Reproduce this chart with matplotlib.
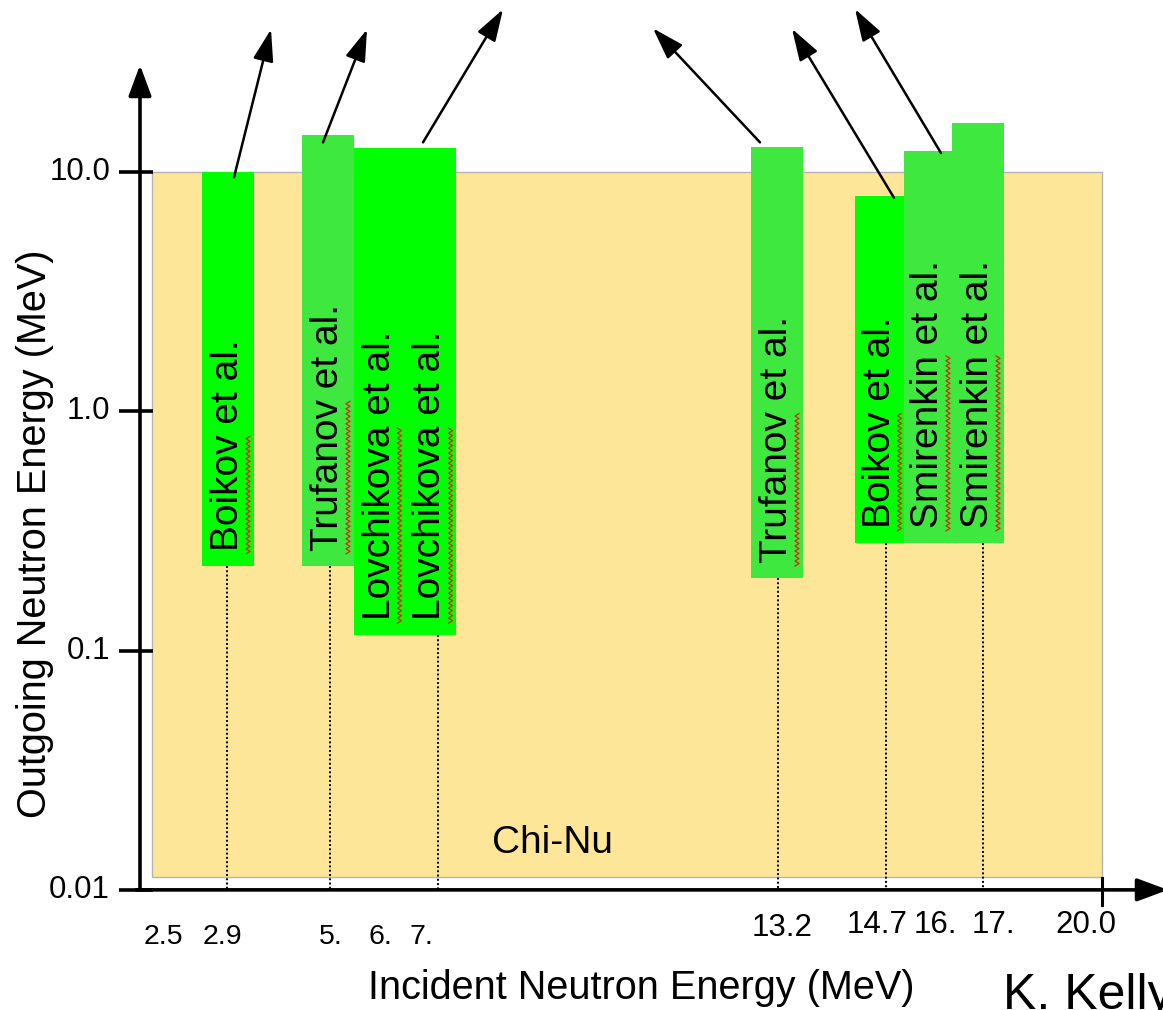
import numpy as np
import matplotlib
matplotlib.use("Agg")
import matplotlib.pyplot as plt
from matplotlib.transforms import IdentityTransform

plt.rcParams["font.family"] = ["Liberation Sans", "DejaVu Sans"]

# ------------------------------------------------
# measurements: incident energy (MeV) and outgoing energy range (MeV)
names = ["Boikov", "Trufanov", "Lovchikova", "Lovchikova",
         "Trufanov", "Boikov", "Smirenkin", "Smirenkin"]
incident = [2.9, 5.0, 6.0, 7.0, 13.2, 14.7, 16.0, 17.0]
out_low = [0.226, 0.226, 0.116, 0.116, 0.201, 0.282, 0.282, 0.282]
out_high = [10.0, 14.3, 12.6, 12.6, 12.7, 7.9, 12.2, 16.0]

# Chi-Nu coverage
chinu_low = 0.0113
chinu_high = 10.0

x_tick_labels = ["2.5", "2.9", "5.", "6.", "7.", "13.2", "14.7", "16.", "17.", "20.0"]
y_tick_values = [10.0, 1.0, 0.1, 0.01]
y_tick_labels = ["10.0", "1.0", "0.1", "0.01"]

# ------------------------------------------------
# schematic layout (the incident axis is not to scale)
bar_left = [202, 302, 354, 405, 751, 855, 904, 952]
bar_width = [52, 52, 51, 51, 52, 49, 48, 52]
bar_color = ["#00ff00", "#3fe83f", "#00ff00", "#00ff00",
             "#3fe83f", "#00ff00", "#3fe83f", "#3fe83f"]
drop_x = [227, 330, None, 438, 778, 886, None, 983]
x_tick_pos = [163, 222, 331, 380, 421, 782, 877, 935, 993, 1086]
x_tick_drop = [47, 47, 47, 47, 47, 38, 35, 35, 35, 35]
x_tick_size = [20.5, 20.5, 20.5, 20.5, 20.5, 22.5, 22.5, 22.5, 22.5, 22.5]
chinu_left, chinu_right = 152, 1102

# arrow tails (x, outgoing energy) and head offsets in pixels
arrow_tail = [(234, 9.5), (323, 13.3), (423, 13.3),
              (760, 13.3), (894, 7.8), (941, 12.0)]
arrow_head = [(37, 148), (44, 113), (80, 133),
              (-107, 114), (-102, 169), (-86, 144)]

W, H = 1163, 1010
fig = plt.figure(figsize=(W / 100, H / 100), dpi=100)
ax = fig.add_axes([0, 0, 1, 1])
ax.set_yscale("log")
ax.set_xlim(0, W)
ax.set_ylim(10 ** -2.502, 10 ** 1.7188)
ax.axis("off")

# Chi-Nu region
ax.bar(chinu_left, chinu_high - chinu_low, bottom=chinu_low,
       width=chinu_right - chinu_left, align="edge",
       color="#fee699", edgecolor="#b4b4b4", linewidth=1.0, zorder=1)
ax.text((chinu_left + chinu_right) / 2 - 75, 0.0157, "Chi-Nu",
        fontsize=28, ha="center", va="center", zorder=5)

# data bars
ax.bar(bar_left, np.array(out_high) - np.array(out_low), bottom=out_low,
       width=bar_width, align="edge", color=bar_color, linewidth=0, zorder=3)

labels = []
for left, w, lo, name in zip(bar_left, bar_width, out_low, names):
    t = ax.annotate(name + " et al.", xy=(left + w / 2, lo), xytext=(0, 15),
                    textcoords="offset pixels", rotation=90,
                    ha="center", va="bottom", fontsize=28, zorder=6)
    labels.append(t)

# dotted drop lines to the incident axis
for xd, lo in zip(drop_x, out_low):
    if xd is None:
        continue
    ax.plot([xd, xd], [lo, 0.01], color="black", linestyle=(0, (1, 1.2)),
            linewidth=1.4, zorder=4)

# axes drawn as arrows
axis_arrow = dict(arrowstyle="<|-,head_length=1.35,head_width=0.5",
                  mutation_scale=14, color="black", lw=2.6,
                  shrinkA=0, shrinkB=0)
ax.annotate("", xy=(140, 0.01), xytext=(140, 28.0), arrowprops=axis_arrow,
            zorder=7)
ax.annotate("", xy=(136, 0.01), xytext=(1168, 0.01), arrowprops=axis_arrow,
            zorder=7)

# y ticks
for v, lab in zip(y_tick_values, y_tick_labels):
    ax.plot([119, 153], [v, v], color="black", linewidth=2.6, zorder=7,
            solid_capstyle="butt")
    ax.text(110, v, lab, fontsize=22.5, ha="right", va="center")

# x ticks
ax.plot([chinu_right, chinu_right], [0.0112, 0.00866], color="black",
        linewidth=2.2, zorder=7)
for xp, drop, size, lab in zip(x_tick_pos, x_tick_drop, x_tick_size, x_tick_labels):
    ax.annotate(lab, xy=(xp, 0.01), xytext=(0, -drop),
                textcoords="offset pixels", ha="center", va="center",
                fontsize=size)

# pointers to the references
for (tx, ty), (dx, dy) in zip(arrow_tail, arrow_head):
    ax.annotate("", xy=(tx, ty), xytext=(dx, dy), textcoords="offset pixels",
                arrowprops=dict(arrowstyle="<|-,head_length=1.4,head_width=0.45",
                                mutation_scale=14, color="black", lw=1.8,
                                shrinkA=0, shrinkB=0), zorder=8)

fig.text(641 / W, 1 - 988 / H, "Incident Neutron Energy (MeV)",
         fontsize=28.5, ha="center", va="center")
fig.text(35 / W, 1 - 534 / H, "Outgoing Neutron Energy (MeV)",
         fontsize=28.5, ha="center", va="center", rotation=90)
fig.text(1003 / W, 1 - 973 / H, "K. Kelly", fontsize=36, ha="left", va="top")

# spell-check squiggles under the author names
fig.canvas.draw()
renderer = fig.canvas.get_renderer()
for t, name in zip(labels, names):
    bb = t.get_window_extent(renderer)
    w, h, d = renderer.get_text_width_height_descent(
        name, t.get_fontproperties(), ismath=False)
    ys = np.arange(bb.y0 - 3, bb.y0 + w, 2.5)
    base = bb.x1 - d + 2
    xs = base + np.where(np.arange(len(ys)) % 2 == 0, -2.0, 2.0)
    ax.plot(xs, ys, color="#d42a10", linewidth=0.9,
            transform=IdentityTransform(), zorder=9)

fig.savefig("out.png", dpi=100)
